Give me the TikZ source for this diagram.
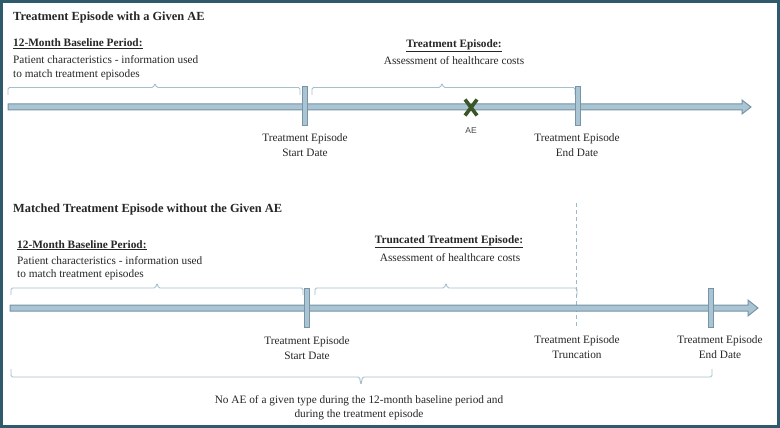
\documentclass[tikz,border=0pt]{standalone}
\usepackage{fontspec}
\setmainfont{Liberation Serif}
\newfontfamily\aefont{Liberation Sans}
\usetikzlibrary{calc}
\definecolor{framecol}{HTML}{2E5A6B}
\definecolor{barfill}{HTML}{A9C4D2}
\definecolor{barline}{HTML}{7793A5}
\definecolor{bracecol}{HTML}{A6BFCC}
\definecolor{dashcol}{HTML}{9DB8C8}
\definecolor{xgreen}{HTML}{3A5528}
\definecolor{txt}{HTML}{262626}
\begin{document}
\begin{tikzpicture}[x=1pt,y=-1pt,
  bodytext/.style={font=\fontsize{11.3}{14}\selectfont, text=txt, inner sep=0pt},
  headtext/.style={font=\fontsize{11.3}{14}\selectfont\bfseries, text=txt, inner sep=0pt},
  titletext/.style={font=\fontsize{12.4}{15}\selectfont\bfseries, text=txt, inner sep=0pt},
  aetext/.style={font=\aefont\fontsize{8.5}{10}\selectfont, text=txt!85, inner sep=0pt},
  bar/.style={fill=barfill, draw=barline, line width=1pt},
  bracket/.style={draw=bracecol, line width=0.9pt, rounded corners=1.5pt},
  trunc/.style={draw=dashcol, line width=0.9pt, dash pattern=on 4pt off 3pt},
  xmark/.style={draw=xgreen, line width=3.6pt}
]
\useasboundingbox (0,0) rectangle (780,428);
\fill[white] (0,0) rectangle (780,428);

% ---------- top section ----------
\node[titletext, anchor=base west] (t1) at (13,21) {Treatment Episode with a Given AE};
\node[headtext, anchor=base west] (h1) at (13,46.5) {\underline{12-Month Baseline Period:}};
\node[bodytext, anchor=base west] (p1a) at (13,63.5) {Patient characteristics - information used};
\node[bodytext, anchor=base west] (p1b) at (13,77.5) {to match treatment episodes};
\node[headtext, anchor=base] (h2) at (454,47.5) {\underline{Treatment Episode:}};
\node[bodytext, anchor=base] (a2) at (454,65) {Assessment of healthcare costs};

% braces
\draw[bracket] (8,95) -- (8,87.5) -- (153.5,87.5) -- (155,83) -- (156.5,87.5) -- (300,87.5) -- (300,95);
\draw[bracket] (312,95) -- (312,87.5) -- (440.5,87.5) -- (442,83) -- (443.5,87.5) -- (575,87.5) -- (575,95);

% timeline
\draw[bar] (8,104) -- (742,104) -- (742,100) -- (751,107) -- (742,114) -- (742,110) -- (8,110) -- cycle;
\draw[bar] (302.5,87) rectangle (307.5,126);
\draw[bar] (575,87) rectangle (580,126);
\coordinate (aeC) at (471,107.5);
\draw[xmark] ($(aeC)+(-6,-8)$) -- ($(aeC)+(6,8)$);
\draw[xmark] ($(aeC)+(-6,8)$) -- ($(aeC)+(6,-8)$);
\node[aetext, anchor=base] (ae) at (471,133) {AE};

\node[bodytext, anchor=base] (s1a) at (305,141) {Treatment Episode};
\node[bodytext, anchor=base] (s1b) at (305,157) {Start Date};
\node[bodytext, anchor=base] (e1a) at (577,141) {Treatment Episode};
\node[bodytext, anchor=base] (e1b) at (577,157) {End Date};

% ---------- bottom section ----------
\node[titletext, anchor=base west] (t2) at (13,212) {Matched Treatment Episode without the Given AE};
\node[headtext, anchor=base west] (h3) at (17,248) {\underline{12-Month Baseline Period:}};
\node[bodytext, anchor=base west] (p3a) at (17,264) {Patient characteristics - information used};
\node[bodytext, anchor=base west] (p3b) at (17,277.5) {to match treatment episodes};
\node[headtext, anchor=base] (h4) at (449,243) {\underline{Truncated Treatment Episode:}};
\node[bodytext, anchor=base] (a4) at (450,261.5) {Assessment of healthcare costs};

\draw[bracket] (11,295) -- (11,288) -- (155.5,288) -- (157,283) -- (158.5,288) -- (303,288) -- (303,295);
\draw[bracket] (315,295) -- (315,288) -- (444.5,288) -- (446,283) -- (447.5,288) -- (577,288) -- (577,295);

\draw[trunc] (576,203) -- (576,327);

\draw[bar] (10,305) -- (748,305) -- (748,300) -- (758,308) -- (748,316) -- (748,311) -- (10,311) -- cycle;
\draw[bar] (304.5,288) rectangle (309.5,327);
\draw[bar] (708,288) rectangle (713,327);

\node[bodytext, anchor=base] (s2a) at (307,344) {Treatment Episode};
\node[bodytext, anchor=base] (s2b) at (307,359) {Start Date};
\node[bodytext, anchor=base] (r2a) at (577,343) {Treatment Episode};
\node[bodytext, anchor=base] (r2b) at (577,358) {Truncation};
\node[bodytext, anchor=base] (e2a) at (720,343) {Treatment Episode};
\node[bodytext, anchor=base] (e2b) at (720,358) {End Date};

\draw[bracket] (11,369) -- (11,377) -- (359.5,377) -- (361,385) -- (362.5,377) -- (712,377) -- (712,369);
\node[bodytext, anchor=base] (n1) at (359,403) {No AE of a given type during the 12-month baseline period and};
\node[bodytext, anchor=base] (n2) at (359,417.5) {during the treatment episode};

% frame
\draw[framecol, line width=3pt] (1.5,1.5) rectangle (778.5,426.5);
\end{tikzpicture}
\end{document}
